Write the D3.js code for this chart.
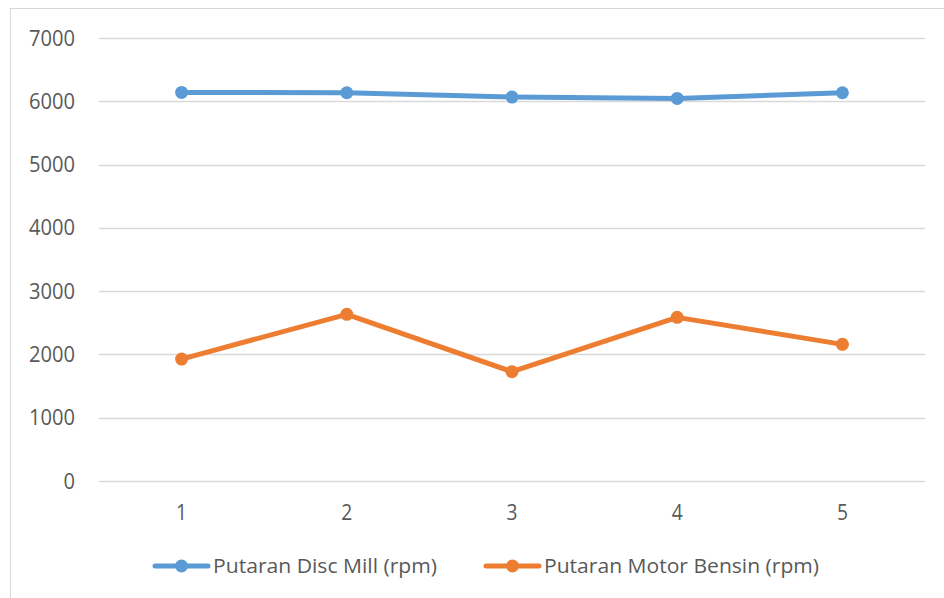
<!DOCTYPE html>
<html>
<head>
<meta charset="utf-8">
<script src="https://cdn.jsdelivr.net/npm/d3@7"></script>
<style>
  body { margin: 0; background: #fff; }
  text { font-family: "Open Sans", Lato, sans-serif; fill: #595959; }
</style>
</head>
<body>
<svg></svg>
<script>
// Data
const categories = ["1", "2", "3", "4", "5"];
const discMill = [6140, 6135, 6066, 6045, 6135];
const motorBensin = [1927, 2633, 1727, 2586, 2159];
const seriesNames = ["Putaran Disc Mill (rpm)", "Putaran Motor Bensin (rpm)"];
const colors = ["#5B9BD5", "#ED7D31"];
const yTicks = [0, 1000, 2000, 3000, 4000, 5000, 6000, 7000];

const W = 944, H = 598;
const svg = d3.select("svg").attr("width", W).attr("height", H);

// Chart border
svg.append("rect")
    .attr("x", 10.5).attr("y", 8.5)
    .attr("width", W + 10).attr("height", H + 10)
    .attr("fill", "none")
    .attr("stroke", "#d9d9d9");

const x = d3.scaleBand()
    .domain(categories)
    .range([99, 925]);

const y = d3.scaleLinear()
    .domain([0, 7000])
    .range([481, 38]);

// Gridlines
svg.append("g")
  .selectAll("line")
  .data(yTicks)
  .join("line")
    .attr("x1", 99).attr("x2", 925)
    .attr("y1", d => Math.round(y(d)) + 0.5)
    .attr("y2", d => Math.round(y(d)) + 0.5)
    .attr("stroke", "#d9d9d9")
    .attr("stroke-width", 1.3);

// Y labels
svg.append("g")
  .selectAll("text")
  .data(yTicks)
  .join("text")
    .attr("x", 75)
    .attr("y", d => y(d))
    .attr("dy", "0.36em")
    .attr("text-anchor", "end")
    .attr("textLength", d => String(d).length * 11.5)
    .attr("lengthAdjust", "spacingAndGlyphs")
    .style("font-size", "21px")
    .text(d => d);

// X labels
svg.append("g")
  .selectAll("text")
  .data(categories)
  .join("text")
    .attr("x", d => x(d) + x.bandwidth() / 2)
    .attr("y", 512)
    .attr("dy", "0.36em")
    .attr("text-anchor", "middle")
    .attr("textLength", 11)
    .attr("lengthAdjust", "spacingAndGlyphs")
    .style("font-size", "21px")
    .text(d => d);

// Lines
const line = d3.line()
    .x((d, i) => x(categories[i]) + x.bandwidth() / 2)
    .y(d => y(d));

[discMill, motorBensin].forEach((vals, s) => {
    svg.append("path")
        .datum(vals)
        .attr("fill", "none")
        .attr("stroke", colors[s])
        .attr("stroke-width", 5)
        .attr("stroke-linejoin", "round")
        .attr("d", line);

    svg.append("g")
      .selectAll("circle")
      .data(vals)
      .join("circle")
        .attr("cx", (d, i) => x(categories[i]) + x.bandwidth() / 2)
        .attr("cy", d => y(d))
        .attr("r", 6.5)
        .attr("fill", colors[s]);
});

// Legend
const legendX = [155, 486];
const legendLen = [224, 275];
seriesNames.forEach((name, s) => {
    const g = svg.append("g").attr("transform", `translate(${legendX[s]},566)`);
    g.append("line")
        .attr("x1", 0).attr("x2", 53)
        .attr("stroke", colors[s])
        .attr("stroke-width", 5)
        .attr("stroke-linecap", "round");
    g.append("circle")
        .attr("cx", 26.5).attr("r", 6.5)
        .attr("fill", colors[s]);
    g.append("text")
        .attr("x", 58)
        .attr("dy", "0.36em")
        .attr("textLength", legendLen[s])
        .attr("lengthAdjust", "spacingAndGlyphs")
        .style("font-size", "20px")
        .text(name);
});
</script>
</body>
</html>
